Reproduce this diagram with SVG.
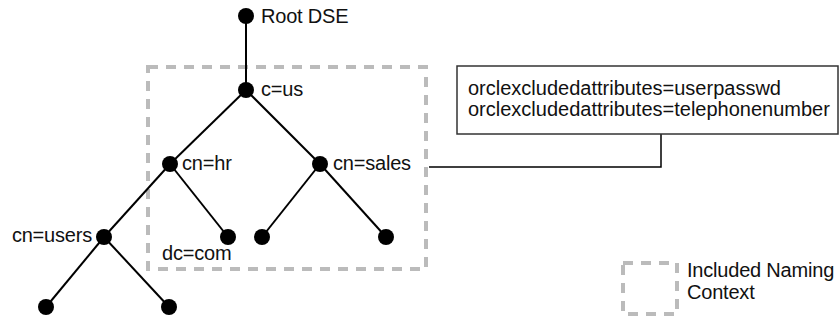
<svg xmlns="http://www.w3.org/2000/svg" width="840" height="320" viewBox="0 0 840 320">
<style>
text{font-family:"Liberation Sans",Arial,sans-serif;font-size:20px;letter-spacing:-0.2px;fill:#111}
.note text{letter-spacing:0px}
.e{stroke:#000;stroke-width:2;fill:none}
.d{fill:#000}
.dash{fill:none;stroke:#bbb;stroke-width:4;stroke-dasharray:10 8}
</style>
<rect width="840" height="320" fill="#fff"/>
<rect class="dash" x="148" y="67" width="278" height="202"/>
<g id="connectors">
<line class="e" x1="246" y1="16" x2="246" y2="90"/>
<line class="e" x1="246" y1="90" x2="170" y2="164"/>
<line class="e" x1="246" y1="90" x2="320" y2="164"/>
<line class="e" x1="170" y1="164" x2="104" y2="237"/>
<line class="e" x1="170" y1="164" x2="228" y2="237"/>
<line class="e" x1="320" y1="164" x2="262" y2="237"/>
<line class="e" x1="320" y1="164" x2="386" y2="237"/>
<line class="e" x1="104" y1="237" x2="46" y2="307"/>
<line class="e" x1="104" y1="237" x2="169" y2="307"/>
<polyline fill="none" stroke="#000" stroke-width="1.5" points="661,134 661,167 429,167"/>
</g>
<g id="root"><circle class="d" cx="246" cy="16" r="8"/><text x="261" y="23">Root DSE</text></g>
<g id="cus"><circle class="d" cx="246" cy="90" r="8"/><text x="261" y="96">c=us</text></g>
<g id="cnhr"><circle class="d" cx="170" cy="164" r="8"/><text x="182" y="170">cn=hr</text></g>
<g id="cnsales"><circle class="d" cx="320" cy="164" r="8"/><text x="333" y="170">cn=sales</text></g>
<g id="cnusers"><circle class="d" cx="104" cy="237" r="8"/><text x="92" y="242" text-anchor="end">cn=users</text></g>
<g id="dccom"><circle class="d" cx="228" cy="237" r="8"/><text x="162" y="260">dc=com</text></g>
<g id="s1"><circle class="d" cx="262" cy="237" r="8"/></g>
<g id="s2"><circle class="d" cx="386" cy="237" r="8"/></g>
<g id="u1"><circle class="d" cx="46" cy="307" r="8"/></g>
<g id="u2"><circle class="d" cx="169" cy="307" r="8"/></g>
<g id="note" class="note">
<rect x="457" y="66" width="381" height="68" fill="#fff" stroke="#333" stroke-width="1.5"/>
<text x="468" y="95">orclexcludedattributes=userpasswd</text>
<text x="468" y="116">orclexcludedattributes=telephonenumber</text>
</g>
<g id="legend">
<rect class="dash" x="623" y="263" width="54" height="51"/>
<text x="687" y="277">Included Naming</text>
<text x="687" y="299">Context</text>
</g>
</svg>
